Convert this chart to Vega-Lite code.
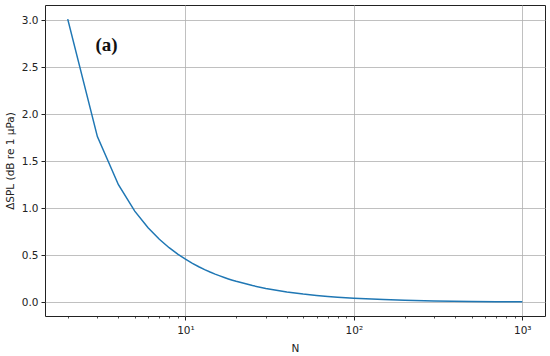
{
  "$schema": "https://vega.github.io/schema/vega-lite/v6.json",
  "autosize": "none",
  "width": 500,
  "height": 311,
  "padding": {"left": 45, "top": 5, "right": 5, "bottom": 40},
  "background": "white",
  "config": {
    "view": {"stroke": "#222", "strokeWidth": 1},
    "axis": {"labelFont": "DejaVu Sans", "titleFont": "DejaVu Sans", "labelFontSize": 10.5, "titleFontSize": 10.5, "titleFontWeight": "normal", "labelColor": "#222", "titleColor": "#222", "tickColor": "#222", "domain": false, "gridColor": "#b0b0b0", "gridWidth": 0.8}
  },
  "layer": [
    {
      "data": {"values": [
        {"N": 2, "dSPL": 3.0103}, {"N": 3, "dSPL": 1.7609}, {"N": 4, "dSPL": 1.2494}, {"N": 5, "dSPL": 0.9691},
        {"N": 6, "dSPL": 0.7918}, {"N": 7, "dSPL": 0.6695}, {"N": 8, "dSPL": 0.5799}, {"N": 9, "dSPL": 0.5115},
        {"N": 10, "dSPL": 0.4576}, {"N": 11, "dSPL": 0.4139}, {"N": 12, "dSPL": 0.3779}, {"N": 13, "dSPL": 0.3476},
        {"N": 14, "dSPL": 0.3218}, {"N": 15, "dSPL": 0.2996}, {"N": 16, "dSPL": 0.2803}, {"N": 17, "dSPL": 0.2633},
        {"N": 18, "dSPL": 0.2482}, {"N": 19, "dSPL": 0.2348}, {"N": 20, "dSPL": 0.2228}, {"N": 25, "dSPL": 0.1773},
        {"N": 30, "dSPL": 0.1472}, {"N": 40, "dSPL": 0.1100}, {"N": 50, "dSPL": 0.0877}, {"N": 60, "dSPL": 0.0730},
        {"N": 70, "dSPL": 0.0625}, {"N": 80, "dSPL": 0.0546}, {"N": 100, "dSPL": 0.0436}, {"N": 150, "dSPL": 0.0290},
        {"N": 200, "dSPL": 0.0217}, {"N": 300, "dSPL": 0.0145}, {"N": 500, "dSPL": 0.0087}, {"N": 700, "dSPL": 0.0062},
        {"N": 1000, "dSPL": 0.0043}
      ]},
      "mark": {"type": "line", "color": "#1f77b4", "strokeWidth": 1.5},
      "encoding": {
        "x": {"field": "N", "type": "quantitative", "scale": {"type": "log", "domain": [1.466, 1364], "nice": false},
          "axis": {"title": "N", "orient": "bottom",
            "values": [2,3,4,5,6,7,8,9,10,20,30,40,50,60,70,80,90,100,200,300,400,500,600,700,800,900,1000],
            "grid": true,
            "gridOpacity": {"condition": {"test": "indexof([10,100,1000], datum.value) >= 0", "value": 1}, "value": 0},
            "tickSize": {"condition": {"test": "indexof([10,100,1000], datum.value) >= 0", "value": 4}, "value": 2},
            "tickWidth": {"condition": {"test": "indexof([10,100,1000], datum.value) >= 0", "value": 1}, "value": 0.8},
            "labelPadding": 5, "titlePadding": 8, "labelOverlap": false,
            "labelExpr": "datum.value == 10 ? '10¹' : datum.value == 100 ? '10²' : datum.value == 1000 ? '10³' : ''"}},
        "y": {"field": "dSPL", "type": "quantitative", "scale": {"domain": [-0.146, 3.16], "nice": false, "zero": false},
          "axis": {"title": "ΔSPL (dB re 1 μPa)", "values": [0, 0.5, 1, 1.5, 2, 2.5, 3], "format": ".1f", "grid": true, "tickSize": 4, "labelPadding": 3, "titlePadding": 6}}
      }
    },
    {
      "data": {"values": [{"N": 3.4, "y": 2.73, "label": "(a)"}]},
      "mark": {"type": "text", "font": "Liberation Serif", "fontWeight": "bold", "fontSize": 19, "color": "#111", "align": "center", "baseline": "middle"},
      "encoding": {
        "x": {"field": "N", "type": "quantitative"},
        "y": {"field": "y", "type": "quantitative"},
        "text": {"field": "label"}
      }
    }
  ]
}
